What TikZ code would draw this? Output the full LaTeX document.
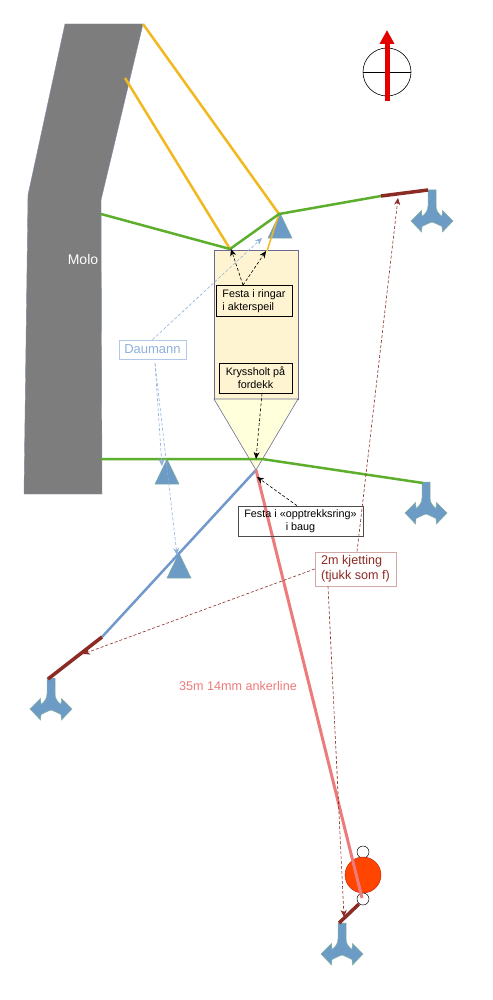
\documentclass[tikz,border=0pt]{standalone}
\usepackage{fontspec}
\setmainfont{Liberation Sans}
\usetikzlibrary{arrows.meta}
\definecolor{grontau}{HTML}{5EAE2E}
\definecolor{gultau}{HTML}{F2B81F}
\definecolor{blaatau}{HTML}{7299CC}
\definecolor{kjetting}{HTML}{8C2B24}
\definecolor{rosa}{HTML}{EE7B7B}
\definecolor{dreggblaa}{HTML}{6C9BC6}
\definecolor{dreggkant}{HTML}{86B0A0}
\definecolor{baat}{HTML}{FEF4D2}
\definecolor{baug}{HTML}{FFFFDC}
\definecolor{daumann}{HTML}{8FB0DC}
\tikzset{
  tau/.style={line width=2.5pt},
  lenke/.style={line width=3.5pt,kjetting},
  merk/.style={draw=black,line width=0.7pt,font=\fontsize{10.8}{13}\selectfont,inner sep=0pt},
  peik/.style={densely dashed,-{Stealth[length=7pt,width=6pt]},line width=0.6pt},
  dregg/.pic={
    \draw[fill=dreggblaa,draw=dreggkant,line width=0.5pt] (-4,0) -- (4,0) -- (4,16)
      .. controls (4,21) and (7,24) .. (10,26.5) -- (10.5,20.5) -- (21,31) -- (10.5,42) -- (10,36.5)
      .. controls (7,35) and (3,33) .. (0,32) .. controls (-3,33) and (-7,35) .. (-10,36.5)
      -- (-10.5,42) -- (-21,31) -- (-10.5,20.5) -- (-10,26.5)
      .. controls (-7,24) and (-4,21) .. (-4,16) -- cycle;
  },
  flyt/.pic={
    \draw[fill=dreggblaa,draw=dreggkant,line width=0.5pt] (0,0) -- (12,25) -- (-12,25) -- cycle;
  }
}
\begin{document}
\begin{tikzpicture}[x=1pt,y=-1pt,>={Stealth[length=7pt,width=6pt]}]
\useasboundingbox[fill=white] (0,0) rectangle (492,1000);

\fill[gray!98!black,draw=blaatau!50!gray,line width=0.4pt] (65,24) -- (143,24) -- (101,200) -- (102,494) -- (24,494) -- (28,195) -- cycle;
\node[text=white,font=\fontsize{14}{16}\selectfont] (molo) at (83,259) {Molo};

\draw[fill=baat,draw=gray!85!blue,line width=0.6pt] (214,250) rectangle (298,399);
\draw[fill=baug,draw=gray!85!blue,line width=0.6pt] (214,399) -- (298,399) -- (256,470) -- cycle;

\coordinate (m1) at (101,214);
\coordinate (m2) at (101,459);
\coordinate (m3) at (143,24);
\coordinate (m4) at (125,78);
\coordinate (a1) at (230,249);
\coordinate (a2) at (279,214);
\coordinate (a3) at (267,251);
\coordinate (k1) at (381,196);
\coordinate (k2) at (428,190);
\coordinate (k3) at (102,637);
\coordinate (k4) at (48,679);
\coordinate (k5) at (359,904);
\coordinate (k6) at (339,923);
\coordinate (b1) at (256,470);
\coordinate (g1) at (262,459);
\coordinate (g2) at (423,483);
\coordinate (t1) at (362,898);

\pic at (280,213) {flyt};
\pic at (167,459) {flyt};
\pic at (179,553) {flyt};
\pic at (432,190) {dregg};
\pic at (426,482) {dregg};
\pic at (51,678) {dregg};
\pic at (342,923) {dregg};

\draw[gultau,tau] (m3) -- (a2);
\draw[gultau,tau] (m4) -- (a1);
\draw[gultau,line width=1.5pt] (a2) -- (a3);
\draw[grontau,tau] (m1) -- (a1) -- (a2) -- (k1);
\draw[grontau,tau] (m2) -- (g1) -- (g2);
\draw[blaatau,tau] (b1) -- (k3);
\draw[lenke] (k1) -- (k2);
\draw[lenke] (k3) -- (k4);

\node[circle,draw=black,fill=white,line width=0.5pt,minimum size=12pt,inner sep=0pt] (o1) at (363,852) {};
\node[circle,draw=black,fill=white,line width=0.5pt,minimum size=12pt,inner sep=0pt] (o2) at (363,899) {};
\node[circle,fill={rgb,255:red,255;green,69;blue,0},draw=kjetting!60!red,line width=0.4pt,minimum size=36pt,inner sep=0pt] (boye) at (363,875) {};
\draw[lenke] (k5) -- (k6);
\draw[rosa,line width=3pt] (b1) -- (t1);

\draw[line width=0.6pt] (387,72) circle (24);
\coordinate (n1) at (363,72);
\coordinate (n2) at (411,72);
\draw[line width=0.6pt] (n1) -- (n2);
\coordinate (p1) at (387,101);
\coordinate (p2) at (387,30);
\draw[-{Triangle[length=14pt,width=14pt]},red!90!black,line width=5pt] (p1) -- (p2);

\node[merk,fill=baat,minimum width=76pt,minimum height=31pt,align=left] (ring) at (254,301) {Festa i ringar\\i akterspeil};
\node[merk,fill=baat,minimum width=73pt,minimum height=30pt,align=center] (kryss) at (255.5,378) {Kryssholt på\\fordekk};
\node[merk,draw=black!70,minimum width=125pt,minimum height=30pt,align=center] (ops) at (300.5,521) {Festa i «opptrekksring»\\i baug};
\node[draw=kjetting!40,fill=white,line width=0.7pt,text=kjetting,font=\fontsize{12.6}{14.6}\selectfont,minimum width=81pt,minimum height=34pt,inner sep=0pt,align=left] (lenkenode) at (355.5,569) {2m kjetting\\(tjukk som f)};
\node[draw=daumann!70,fill=white,line width=0.7pt,text=daumann,font=\fontsize{13}{15}\selectfont,minimum width=67pt,minimum height=19pt,inner sep=0pt] (dau) at (152.5,349.5) {Daumann};
\node[text=rosa,font=\fontsize{12.6}{14.6}\selectfont] (line) at (238,686) {35m 14mm ankerline};

\coordinate (e1) at (231,249);
\coordinate (e2) at (266,251);
\coordinate (e3) at (256,459);
\coordinate (e4) at (257,477);
\coordinate (e5) at (262,238);
\coordinate (e6) at (162,466);
\coordinate (e7) at (177,555);
\coordinate (e8) at (398,198);
\coordinate (e9) at (83,654);
\coordinate (e10) at (344,917);

\draw[peik] ([xshift=-11pt]ring.north) -- (e1);
\draw[peik] ([xshift=-11pt]ring.north) -- (e2);
\draw[peik] ([xshift=6.5pt]kryss.south) -- (e3);
\draw[peik] ([xshift=-3.5pt]ops.north) -- (e4);
\draw[peik,daumann] (dau.north) -- (e5);
\draw[peik,daumann] ([xshift=2.5pt,yshift=-4pt]dau.south) -- (e6);
\draw[peik,daumann] ([xshift=2.5pt,yshift=-4pt]dau.south) -- (e7);
\draw[peik,kjetting] ([xshift=1.5pt]lenkenode.north) -- (e8);
\draw[peik,kjetting] (lenkenode.west) -- (e9);
\draw[peik,kjetting] ([xshift=-27.5pt]lenkenode.south) -- (e10);
\end{tikzpicture}
\end{document}
